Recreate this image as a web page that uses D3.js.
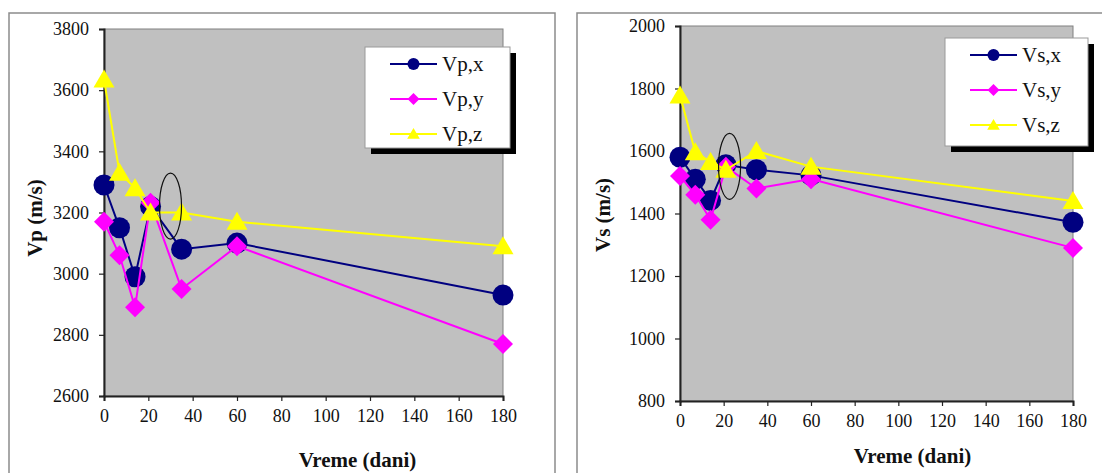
<!DOCTYPE html>
<html><head><meta charset="utf-8">
<script src="https://cdn.jsdelivr.net/npm/d3@7"></script>
<style>body{margin:0;background:#fff;} svg{display:block;} svg text{font-family:"Liberation Serif","Times New Roman","DejaVu Serif",serif;}</style>
</head><body>
<svg id="c" width="1102" height="473"></svg>
<script>
const days = [0, 7, 14, 21, 35, 60, 180];
const xTicks = [0, 20, 40, 60, 80, 100, 120, 140, 160, 180];

const vpX = [3290, 3150, 2990, 3220, 3080, 3100, 2930];
const vpY = [3170, 3060, 2890, 3232, 2950, 3090, 2770];
const vpZ = [3635, 3330, 3280, 3200, 3200, 3170, 3090];
const vpTicks = [2600, 2800, 3000, 3200, 3400, 3600, 3800];
const vpNames = ["Vp,x", "Vp,y", "Vp,z"];
const vpEllipse = [30, 3221];

const vsX = [1580, 1510, 1442, 1556, 1540, 1522, 1372];
const vsY = [1520, 1460, 1380, 1550, 1480, 1510, 1290];
const vsZ = [1778, 1596, 1565, 1540, 1600, 1550, 1440];
const vsTicks = [800, 1000, 1200, 1400, 1600, 1800, 2000];
const vsNames = ["Vs,x", "Vs,y", "Vs,z"];
const vsEllipse = [22.7, 1551];

const colors = ["#000080", "#ff00ff", "#ffff00"];
const shapes = ["circle", "diamond", "triangle"];

const svg = d3.select("#c");
const serif = '"Liberation Serif", "Times New Roman", "DejaVu Serif", serif';

function markerPath(shape, s) {
  if (shape === "circle") return d3.symbol(d3.symbolCircle, Math.PI * s * s)();
  if (shape === "diamond") return `M0,${-s}L${s},0L0,${s}L${-s},0Z`;
  const h = s * 1.8;
  return `M0,${-h * 0.55}L${s * 1.05},${h * 0.45}L${-s * 1.05},${h * 0.45}Z`;
}

function styleText(sel, size, bold) {
  sel.attr("font-family", null).style("font-family", serif).style("font-size", size + "px")
    .style("font-weight", bold ? "bold" : "normal").attr("fill", "#111");
}

function drawChart(o) {
  const g = svg.append("g");
  g.append("path").attr("d", `M${o.frame[0]},473V${o.frame[1]}H${o.frame[2]}V473`)
    .attr("fill", "none").attr("stroke", "#8c8c8c").attr("stroke-width", 1.5);

  const x = d3.scaleLinear().domain([0, 180]).range([o.pa[0], o.pa[1]]);
  const y = d3.scaleLinear().domain([o.ticks[0], o.ticks[o.ticks.length - 1]]).range([o.pa[3], o.pa[2]]);

  g.append("rect").attr("x", o.pa[0]).attr("y", o.pa[2])
    .attr("width", o.pa[1] - o.pa[0]).attr("height", o.pa[3] - o.pa[2])
    .attr("fill", "#c0c0c0").attr("stroke", "#808080").attr("stroke-width", 1);

  const yAxis = g.append("g").attr("transform", `translate(${o.pa[0]},0)`)
    .call(d3.axisLeft(y).tickValues(o.ticks).tickSize(5).tickPadding(10).tickFormat(d3.format("d")));
  const xAxis = g.append("g").attr("transform", `translate(0,${o.pa[3]})`)
    .call(d3.axisBottom(x).tickValues(xTicks).tickSize(5).tickPadding(8).tickFormat(d3.format("d")));
  [yAxis, xAxis].forEach(a => {
    a.attr("font-family", null);
    a.select(".domain").attr("stroke", "#222").attr("stroke-width", 2);
    a.selectAll(".tick line").attr("stroke", "#222").attr("stroke-width", 1.2);
    styleText(a.selectAll("text"), 18, false);
  });

  const line = d3.line().x((d, i) => x(days[i])).y(d => y(d));
  o.series.forEach((vals, si) => {
    g.append("path").datum(vals).attr("d", line)
      .attr("fill", "none").attr("stroke", colors[si]).attr("stroke-width", 2);
    g.selectAll(null).data(vals).enter().append("path")
      .attr("transform", (d, i) => `translate(${x(days[i])},${y(d)})`)
      .attr("d", markerPath(shapes[si], si === 0 ? 10.5 : 10))
      .attr("fill", colors[si]);
  });

  g.append("ellipse").attr("cx", x(o.ellipse[0])).attr("cy", y(o.ellipse[1]))
    .attr("rx", 11).attr("ry", 33).attr("fill", "none").attr("stroke", "#111").attr("stroke-width", 1.2);

  const L = o.legend;
  g.append("rect").attr("x", L[0] + 6).attr("y", L[1] + 6).attr("width", L[2]).attr("height", L[3]).attr("fill", "#000");
  g.append("rect").attr("x", L[0]).attr("y", L[1]).attr("width", L[2]).attr("height", L[3])
    .attr("fill", "#fff").attr("stroke", "#999").attr("stroke-width", 1);
  o.names.forEach((n, i) => {
    const ly = L[1] + 17 + i * 35;
    const lx = L[0] + 25;
    g.append("line").attr("x1", lx).attr("x2", lx + 47).attr("y1", ly).attr("y2", ly)
      .attr("stroke", colors[i]).attr("stroke-width", 2);
    g.append("path").attr("transform", `translate(${lx + 23.5},${ly})`)
      .attr("d", markerPath(shapes[i], 6)).attr("fill", colors[i]);
    const t = g.append("text").attr("x", lx + 52).attr("y", ly + 7).text(n);
    styleText(t, 21, false);
  });

  const xt = g.append("text").attr("x", (o.pa[0] + o.pa[1]) / 2 + o.xtOff).attr("y", o.xtY)
    .attr("text-anchor", "middle").text("Vreme (dani)");
  styleText(xt, 21, true);
  const yt = g.append("text").attr("transform", `translate(${o.ytX},${o.ytY}) rotate(-90)`)
    .attr("text-anchor", "middle").text(o.ytitle);
  styleText(yt, 21, true);
}

drawChart({
  frame: [9, 13, 555], pa: [104, 503, 29, 396], ticks: vpTicks,
  series: [vpX, vpY, vpZ], names: vpNames, ellipse: vpEllipse,
  legend: [365, 47, 145, 101], xtOff: 54, xtY: 467, ytX: 42, ytY: 218, ytitle: "Vp (m/s)"
});
drawChart({
  frame: [577, 13, 1110], pa: [680, 1073, 26, 401], ticks: vsTicks,
  series: [vsX, vsY, vsZ], names: vsNames, ellipse: vsEllipse,
  legend: [945, 38, 143, 108], xtOff: 36, xtY: 463, ytX: 610, ytY: 215, ytitle: "Vs (m/s)"
});
</script>
</body></html>
